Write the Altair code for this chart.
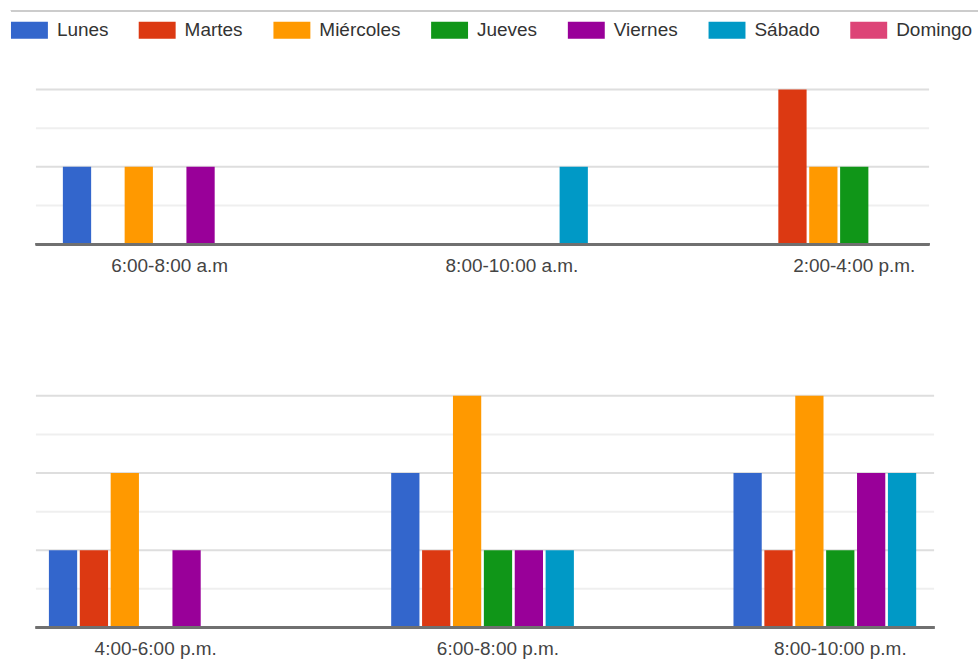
import altair as alt
import pandas as pd

FONT = "Liberation Sans"

dias = ["Lunes", "Martes", "Miércoles", "Jueves", "Viernes", "Sábado", "Domingo"]
colores = ["#3366cc", "#dc3912", "#ff9900", "#109618", "#990099", "#0099c6", "#dd4477"]

franjas_1 = ["6:00-8:00 a.m", "8:00-10:00 a.m.", "2:00-4:00 p.m."]
franjas_2 = ["4:00-6:00 p.m.", "6:00-8:00 p.m.", "8:00-10:00 p.m."]

# values per time slot, ordered as dias
v_6_8_am = [1, 0, 1, 0, 1, 0, 0]
v_8_10_am = [0, 0, 0, 0, 0, 1, 0]
v_2_4_pm = [0, 2, 1, 1, 0, 0, 0]
v_4_6_pm = [1, 1, 2, 0, 1, 0, 0]
v_6_8_pm = [2, 1, 3, 1, 1, 1, 0]
v_8_10_pm = [2, 1, 3, 1, 2, 2, 0]

# gridline values (major / minor) of each panel
grid_mayor_1 = [1, 2]
grid_menor_1 = [0.5, 1.5]
grid_mayor_2 = [1, 2, 3]
grid_menor_2 = [0.5, 1.5, 2.5]


def tabla(franjas, series):
    rows = []
    for f, vals in zip(franjas, series):
        for d, v in zip(dias, vals):
            rows.append({"franja": f, "dia": d, "valor": v})
    return pd.DataFrame(rows)


df1 = tabla(franjas_1, [v_6_8_am, v_8_10_am, v_2_4_pm])
df2 = tabla(franjas_2, [v_4_6_pm, v_6_8_pm, v_8_10_pm])

legend = alt.Legend(
    title=None,
    orient="none",
    legendX=-25,
    legendY=-78,
    direction="horizontal",
    columns=7,
    symbolType="M-1,-0.46H1V0.46H-1Z",
    symbolSize=1369,
    symbolStrokeWidth=0,
    labelFont=FONT,
    labelFontSize=19,
    labelColor="#333333",
    labelOffset=9,
    columnPadding=30,
    padding=0,
)


def panel(df, franjas, ymax, h, w, xr, g_mayor, g_menor, top=False):
    yscale = alt.Scale(domain=[0, ymax], nice=False)
    grid_a = alt.Chart(pd.DataFrame({"g": g_menor})).mark_rule(
        color="#efefef", strokeWidth=2
    ).encode(y=alt.Y("g:Q", scale=yscale, axis=None))
    grid_b = alt.Chart(pd.DataFrame({"g": g_mayor})).mark_rule(
        color="#dedede", strokeWidth=2
    ).encode(y=alt.Y("g:Q", scale=yscale, axis=None))
    bars = alt.Chart(df).mark_bar().encode(
        x=alt.X(
            "franja:N",
            sort=franjas,
            scale=alt.Scale(domain=franjas, range=xr, paddingInner=0.376, paddingOuter=0),
            axis=alt.Axis(
                title=None, labelAngle=0, domain=False, ticks=False, grid=False,
                labelFont=FONT, labelFontSize=19, labelColor="#444444", labelPadding=12,
            ),
        ),
        xOffset=alt.XOffset("dia:N", scale=alt.Scale(domain=dias, paddingInner=0.085)),
        y=alt.Y(
            "valor:Q",
            scale=yscale,
            axis=alt.Axis(
                title=None, labels=False, ticks=False, domain=False, grid=False,
                minExtent=25,
            ),
        ),
        color=alt.Color("dia:N", scale=alt.Scale(domain=dias, range=colores), legend=legend),
    )
    base_line = alt.Chart(df).mark_rule(color="#707070", strokeWidth=2.5).encode(y=alt.datum(0))
    layers = [grid_a, grid_b, bars, base_line]
    if top:
        sep = alt.Chart(df).mark_rule(color="#cccccc", strokeWidth=1.5).encode(
            x=alt.value(-25), x2=alt.value(944), y=alt.value(-79)
        )
        layers.append(sep)
    return alt.layer(*layers).properties(width=w, height=h)


p1 = panel(df1, franjas_1, 2, 155, 895, [27, 927], grid_mayor_1, grid_menor_1, top=True)
p2 = panel(df2, franjas_2, 3, 232, 900, [13, 913], grid_mayor_2, grid_menor_2)

chart = alt.vconcat(p1, p2, spacing=120).properties(
    padding={"left": 10, "top": 9, "right": 0, "bottom": 0}
).configure_view(stroke=None)

chart.save("out.html", embed_options={"renderer": "svg", "actions": False})
